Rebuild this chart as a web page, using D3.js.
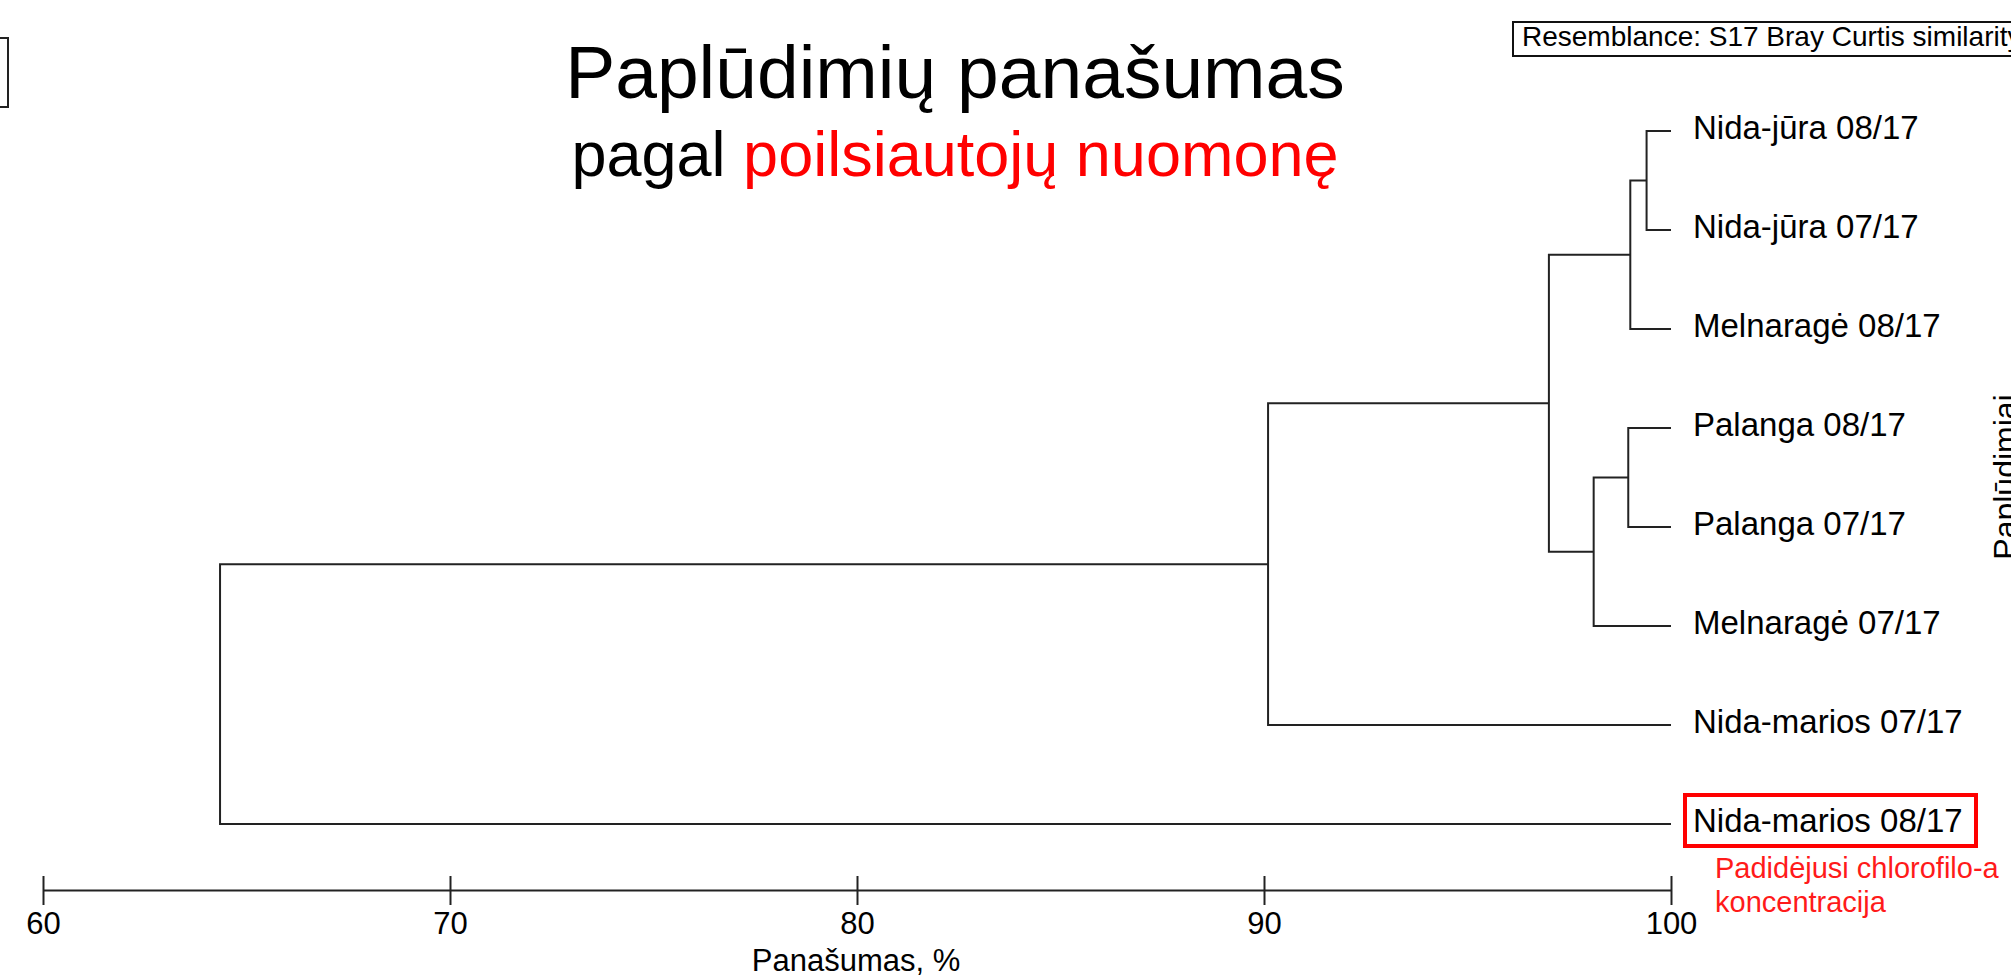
<!DOCTYPE html>
<html>
<head>
<meta charset="utf-8">
<script src="https://cdn.jsdelivr.net/npm/d3@7"></script>
<style>
  body { margin: 0; background: #fff; }
  svg text { font-family: "Liberation Sans", Arial, sans-serif; }
</style>
</head>
<body>
<script>
// leaves, top to bottom
const leaves = ["Nida-jūra 08/17", "Nida-jūra 07/17", "Melnaragė 08/17", "Palanga 08/17",
                "Palanga 07/17", "Melnaragė 07/17", "Nida-marios 07/17", "Nida-marios 08/17"];
// merges: ids 0..7 are leaves, merge i gets id 8+i
const mergeLeft  = [0, 8, 3, 10, 9, 12, 13];
const mergeRight = [1, 2, 4, 5, 11, 6, 7];
const mergeSim   = [99.4, 99.0, 98.95, 98.1, 97.0, 90.1, 64.35];
const xTicks = [60, 70, 80, 90, 100];
const highlighted = "Nida-marios 08/17";

var svg = d3.select("body").append("svg")
    .attr("width", 2011)
    .attr("height", 979);

var x = d3.scaleLinear().domain([60, 100]).range([43, 1671]);
var y = d3.scalePoint().domain(leaves).range([131, 824]);

// node positions
var nodes = leaves.map(function (d) { return { x: x(100), y: y(d) }; });
mergeSim.forEach(function (s, i) {
    var a = nodes[mergeLeft[i]], b = nodes[mergeRight[i]];
    nodes.push({ x: x(s), y: (a.y + b.y) / 2, a: a, b: b });
});

var g = svg.append("g");
g.selectAll("path.link")
    .data(nodes.filter(function (n) { return n.a; }))
    .enter().append("path")
    .attr("class", "link")
    .attr("fill", "none")
    .attr("stroke", "#222")
    .attr("stroke-width", 2)
    .attr("d", function (n) {
        return "M" + n.a.x + "," + n.a.y + "H" + n.x + "V" + n.b.y + "H" + n.b.x;
    });

// leaf labels
g.selectAll("text.leaf")
    .data(leaves)
    .enter().append("text")
    .attr("class", "leaf")
    .attr("x", x(100) + 22)
    .attr("y", function (d) { return y(d) + 8; })
    .style("font-size", "33px")
    .style("fill", "#000")
    .text(function (d) { return d; });

// red box + note
var hy = y(highlighted);
g.append("rect")
    .attr("x", x(100) + 14)
    .attr("y", hy - 29)
    .attr("width", 291)
    .attr("height", 51)
    .attr("fill", "none")
    .attr("stroke", "#ff0000")
    .attr("stroke-width", 4);
var note = g.append("text")
    .style("font-size", "29px")
    .style("fill", "#ff1a1a");
note.append("tspan").attr("x", 1715).attr("y", 878).text("Padidėjusi chlorofilo-a");
note.append("tspan").attr("x", 1715).attr("y", 912).text("koncentracija");

// axis
var axis = svg.append("g")
    .attr("transform", "translate(0,890)")
    .call(d3.axisBottom(x).tickValues(xTicks).tickSize(15).tickSizeOuter(0).tickFormat(d3.format("d")));
axis.select(".domain").attr("stroke", "#222").attr("stroke-width", 2);
axis.selectAll(".tick line").attr("y1", -14).attr("stroke", "#222").attr("stroke-width", 2);
axis.selectAll(".tick text")
    .attr("dy", null)
    .attr("y", 44)
    .style("font-size", "31px")
    .style("font-family", "'Liberation Sans', Arial, sans-serif")
    .attr("fill", "#000");

svg.append("text")
    .attr("x", 856)
    .attr("y", 971)
    .attr("text-anchor", "middle")
    .style("font-size", "31px")
    .text("Panašumas, %");

// title
svg.append("text")
    .attr("x", 955)
    .attr("y", 98)
    .attr("text-anchor", "middle")
    .style("font-size", "75px")
    .text("Paplūdimių panašumas");
var sub = svg.append("text")
    .attr("x", 955)
    .attr("y", 176)
    .attr("text-anchor", "middle")
    .style("font-size", "63px");
sub.append("tspan").attr("fill", "#000").text("pagal ");
sub.append("tspan").attr("fill", "#ff0000").text("poilsiautojų nuomonę");

// resemblance box (runs off the right edge, as in the source image)
svg.append("rect")
    .attr("x", 1513).attr("y", 22)
    .attr("width", 560).attr("height", 34)
    .attr("fill", "#fff").attr("stroke", "#111").attr("stroke-width", 2);
svg.append("text")
    .attr("x", 1522).attr("y", 46)
    .style("font-size", "28px")
    .text("Resemblance: S17 Bray Curtis similarity");

// cut-off box at the left edge
svg.append("rect")
    .attr("x", -50).attr("y", 38)
    .attr("width", 58).attr("height", 69)
    .attr("fill", "none").attr("stroke", "#222").attr("stroke-width", 2);

// rotated group label, cut by the right edge
svg.append("text")
    .attr("transform", "translate(2016,477) rotate(-90)")
    .attr("text-anchor", "middle")
    .style("font-size", "32px")
    .text("Paplūdimiai");
</script>
</body>
</html>
